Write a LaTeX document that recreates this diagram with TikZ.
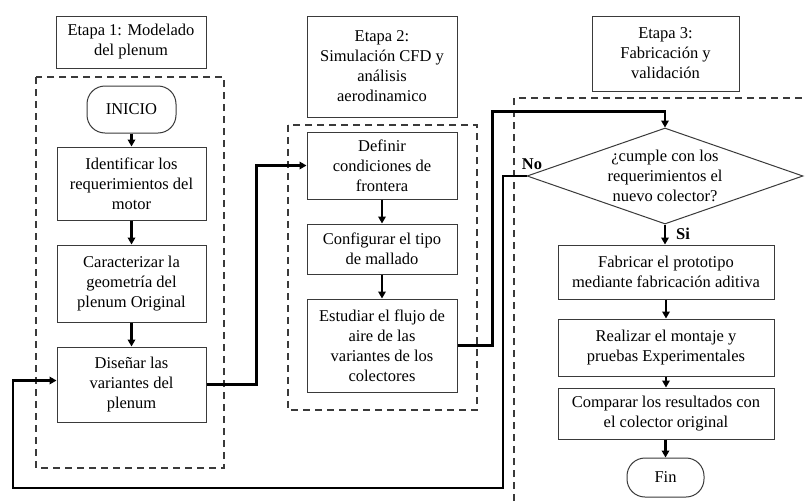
\documentclass[tikz,border=0pt]{standalone}
\usepackage{fontspec}
\setmainfont{Liberation Serif}
\usetikzlibrary{arrows.meta,shapes.geometric}
\definecolor{bord}{HTML}{3a3a3a}
\begin{document}
\begin{tikzpicture}[x=1pt,y=-1pt,
  font=\fontsize{16.5}{20}\selectfont,
  box/.style={draw=bord,line width=1pt,align=center,inner sep=0pt},
  term/.style={box,rounded corners=18pt},
  dbox/.style={draw=bord,line width=1.5pt,dash pattern=on 7pt off 5pt},
  arr/.style={draw=black,line width=2.4pt,-{Triangle[length=7pt,width=7.5pt]}},
  lab/.style={font=\fontsize{16.5}{20}\selectfont\bfseries,inner sep=0pt}]
\useasboundingbox (0,0) rectangle (805,501);
\fill[white] (0,0) rectangle (805,501);
% dashed groups
\draw[dbox] (36,77) rectangle (224,468);
\draw[dbox] (288,125) rectangle (477,410);
\draw[dbox] (514,501) -- (514,98) -- (805,98);
% headers
\node[box,minimum width=150pt,minimum height=52pt] (h1) at (131,42) {Etapa 1: Modelado\\del plenum};
\node[box,minimum width=150pt,minimum height=101pt] (h2) at (382,66.5) {Etapa 2:\\Simulación CFD y\\análisis\\aerodinamico};
\node[box,minimum width=147pt,minimum height=75pt] (h3) at (665.5,53.5) {Etapa 3:\\Fabricación y\\validación};
% stage 1
\node[term,minimum width=89pt,minimum height=47pt] (ini) at (131.5,109.5) {INICIO};
\node[box,minimum width=149pt,minimum height=73pt] (ide) at (131.5,183.5) {Identificar los\\requerimientos del\\motor};
\node[box,minimum width=149pt,minimum height=77pt] (car) at (131.5,283.5) {Caracterizar la\\geometría del\\plenum Original};
\node[box,minimum width=149pt,minimum height=75pt] (dis) at (131.5,384.5) {Diseñar las\\variantes del\\plenum};
% stage 2
\node[box,minimum width=150pt,minimum height=67pt] (def) at (382,165.5) {Definir\\condiciones de\\frontera};
\node[box,minimum width=150pt,minimum height=50pt] (con) at (382,249) {Configurar el tipo\\de mallado};
\node[box,minimum width=150pt,minimum height=93pt] (est) at (382,345.5) {Estudiar el flujo de\\aire de las\\variantes de los\\colectores};
% stage 3
\node[draw=bord,line width=1pt,diamond,aspect=2.875,minimum width=276pt,minimum height=96pt,inner sep=0pt] (dia) at (665,176) {};
\node[align=center,inner sep=0pt] (diat) at (665,176) {¿cumple con los\\requerimientos el\\nuevo colector?};
\node[box,minimum width=216pt,minimum height=54pt] (fab) at (666,272) {Fabricar el prototipo\\mediante fabricación aditiva};
\node[box,minimum width=216pt,minimum height=57pt] (rea) at (666,347.5) {Realizar el montaje y\\pruebas Experimentales};
\node[box,minimum width=216pt,minimum height=51pt] (com) at (666,413.5) {Comparar los resultados con\\el colector original};
\node[term,minimum width=77pt,minimum height=39pt] (fin) at (665.5,477.5) {Fin};
% labels
\node[lab] (no) at (532,164) {No};
\node[lab] (si) at (683,234) {Si};
% connectors
\draw[arr] (ini) -- (ide);
\draw[arr] (ide) -- (car);
\draw[arr] (car) -- (dis);
\draw[arr] (dis.east) -- ++(50,0) |- (def.west);
\draw[arr] (def) -- (con);
\draw[arr] (con) -- (est);
\draw[arr] (est.east) -- ++(35,0) |- ([yshift=16pt]dia.north) -- (dia.north);
\draw[arr] (dia.south) -- (fab.north -| dia.south);
\draw[arr] (fab) -- (rea);
\draw[arr] (rea) -- (com);
\draw[arr] (com.south -| fin.north) -- (fin.north);
\coordinate (c1) at (503,488);
\coordinate (c2) at (13,488);
\draw[arr] (dia.west) -| (c1) -- (c2) |- ([yshift=4pt]dis.west);
\end{tikzpicture}
\end{document}
